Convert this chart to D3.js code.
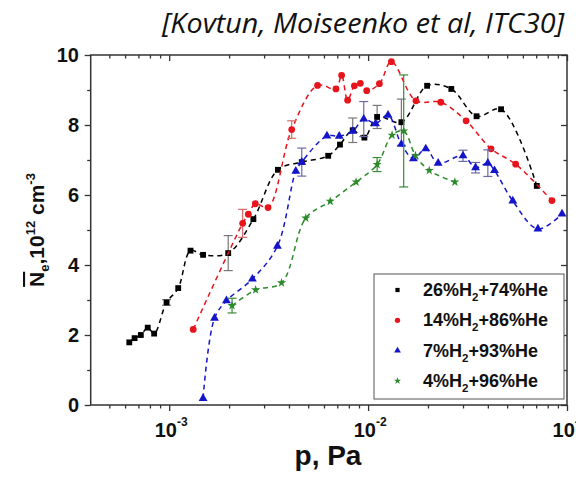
<!DOCTYPE html>
<html><head><meta charset="utf-8">
<script src="https://cdn.jsdelivr.net/npm/d3@7"></script>
<style>body{margin:0;background:#fff;} svg{display:block;}</style>
</head><body><svg id="c" width="576" height="477"></svg>
<script>
// ---- data ----
const titleText = "[Kovtun, Moiseenko et al, ITC30]";
const xLabel = "p, Pa";
const yTicks = [0, 2, 4, 6, 8, 10];
const yMinorTicks = [1, 3, 5, 7, 9];
const xMajorTicks = [1e-3, 1e-2, 1e-1];
const xTickExponents = ["-3", "-2", "-1"];
const xMinorTicks = [5e-4, 6e-4, 7e-4, 8e-4, 9e-4, 2e-3, 3e-3, 4e-3, 5e-3, 6e-3, 7e-3, 8e-3, 9e-3, 2e-2, 3e-2, 4e-2, 5e-2, 6e-2, 7e-2, 8e-2, 9e-2];
const legendLabels = [["26%H", "2", "+74%He"], ["14%H", "2", "+86%He"], ["7%H", "2", "+93%He"], ["4%H", "2", "+96%He"]];

const p26 = [6.3e-4, 6.7e-4, 7.2e-4, 7.8e-4, 8.4e-4, 9.7e-4, 1.11e-3, 1.28e-3, 1.48e-3, 1.98e-3, 2.65e-3, 3.52e-3, 4.64e-3, 6.3e-3, 7.22e-3, 8.37e-3, 9.58e-3, 1.11e-2, 1.47e-2, 1.98e-2, 2.62e-2, 3.51e-2, 4.66e-2, 7.05e-2];
const n26 = [1.79, 1.91, 2.0, 2.21, 2.04, 2.93, 3.34, 4.41, 4.29, 4.34, 5.31, 6.72, 6.94, 7.12, 7.44, 7.85, 7.64, 8.23, 8.08, 9.12, 9.03, 8.25, 8.45, 6.26];
const e26 = [0, 0, 0, 0, 0, 0.08, 0, 0, 0, 0.5, 0, 0, 0, 0, 0, 0.35, 0, 0.33, 0.66, 0, 0, 0, 0, 0];

const p14 = [1.32e-3, 2.34e-3, 2.5e-3, 2.71e-3, 3.14e-3, 4.13e-3, 5.57e-3, 6.89e-3, 7.36e-3, 7.89e-3, 8.53e-3, 9.14e-3, 9.84e-3, 1.14e-2, 1.31e-2, 1.74e-2, 2.32e-2, 3.11e-2, 4.15e-2, 5.52e-2, 8.4e-2];
const n14 = [2.16, 5.19, 5.45, 5.75, 5.64, 7.87, 9.13, 9.03, 9.42, 8.71, 9.12, 9.19, 8.98, 9.18, 9.81, 8.69, 8.65, 8.12, 7.32, 6.88, 5.84];
const e14 = [0, 0.4, 0, 0, 0, 0.25, 0, 0, 0, 0, 0, 0, 0, 0, 0, 0, 0, 0, 0, 0, 0];

const p7 = [1.48e-3, 1.69e-3, 1.94e-3, 2.62e-3, 3.5e-3, 4.33e-3, 4.64e-3, 6.21e-3, 7.16e-3, 8.37e-3, 9.51e-3, 1.09e-2, 1.26e-2, 1.47e-2, 1.69e-2, 1.95e-2, 2.25e-2, 3.0e-2, 3.47e-2, 4.0e-2, 4.32e-2, 5.34e-2, 7.14e-2, 9.44e-2];
const n7 = [0.19, 2.48, 2.98, 3.6, 4.54, 6.68, 6.94, 7.69, 7.68, 7.82, 8.17, 8.04, 8.28, 7.45, 7.04, 7.32, 6.91, 7.12, 6.78, 6.91, 6.70, 5.83, 5.03, 5.46];
const e7 = [0, 0, 0, 0, 0, 0, 0.4, 0, 0, 0, 0.5, 0, 0, 0, 0, 0, 0, 0.16, 0.15, 0.38, 0, 0, 0, 0];

const p4 = [2.07e-3, 2.72e-3, 3.67e-3, 4.86e-3, 6.45e-3, 8.7e-3, 1.11e-2, 1.32e-2, 1.51e-2, 1.73e-2, 2.03e-2, 2.73e-2];
const n4 = [2.84, 3.29, 3.49, 5.34, 5.82, 6.37, 6.87, 7.71, 7.83, 7.13, 6.70, 6.37];
const e4 = [0.21, 0, 0, 0, 0, 0, 0.2, 0, 1.6, 0, 0, 0];

const seriesP = [p26, p14, p7, p4];
const seriesN = [n26, n14, n7, n4];
const seriesE = [e26, e14, e7, e4];

// ---- styles ----
const colors = ["#000000", "#e8141b", "#1414c8", "#2a8a2a"];
const errColors = ["#777777", "#d86a6a", "#6a6aa8", "#3a8a3a"];
const symbols = [d3.symbolSquare, d3.symbolCircle, d3.symbolTriangle, d3.symbolStar];
const symSize = [34, 36, 34, 26];
const legSize = [18, 22, 20, 16];

const svg = d3.select("#c");
const x = d3.scaleLog().domain([4.03e-4, 0.1]).range([90.7, 567]);
const y = d3.scaleLinear().domain([0, 10]).range([405, 55]);
const [x0, x1] = x.range();
const [y0, y1] = y.range();
const axisColor = "#333";

function styleAxis(g) {
  g.select(".domain").remove();
  g.selectAll("line").attr("stroke", axisColor).attr("stroke-width", 1.3);
}
// bottom (outward)
svg.append("g").attr("transform", `translate(0,${y0})`).call(d3.axisBottom(x).tickValues(xMajorTicks).tickSize(6).tickFormat("")).call(styleAxis);
svg.append("g").attr("transform", `translate(0,${y0})`).call(d3.axisBottom(x).tickValues(xMinorTicks).tickSize(3.5).tickFormat("")).call(styleAxis);
// top (inward)
svg.append("g").attr("transform", `translate(0,${y1})`).call(d3.axisBottom(x).tickValues(xMajorTicks).tickSize(6).tickFormat("")).call(styleAxis);
svg.append("g").attr("transform", `translate(0,${y1})`).call(d3.axisBottom(x).tickValues(xMinorTicks).tickSize(3.5).tickFormat("")).call(styleAxis);
// left (outward)
svg.append("g").attr("transform", `translate(${x0},0)`).call(d3.axisLeft(y).tickValues(yTicks).tickSize(6).tickFormat("")).call(styleAxis);
svg.append("g").attr("transform", `translate(${x0},0)`).call(d3.axisLeft(y).tickValues(yMinorTicks).tickSize(3.5).tickFormat("")).call(styleAxis);
// right (inward)
svg.append("g").attr("transform", `translate(${x1},0)`).call(d3.axisLeft(y).tickValues(yTicks).tickSize(6).tickFormat("")).call(styleAxis);
svg.append("g").attr("transform", `translate(${x1},0)`).call(d3.axisLeft(y).tickValues(yMinorTicks).tickSize(3.5).tickFormat("")).call(styleAxis);

svg.append("rect").attr("x", x0).attr("y", y1).attr("width", x1 - x0).attr("height", y0 - y1)
  .attr("fill", "none").attr("stroke", axisColor).attr("stroke-width", 1.5);

const font = "'Liberation Sans', Arial, sans-serif";
// y tick labels
svg.append("g").selectAll("text").data(yTicks).join("text")
  .attr("x", 79).attr("y", d => y(d) + 7).attr("text-anchor", "end")
  .attr("font-family", font).attr("font-weight", "bold").attr("font-size", 20).attr("fill", "#111")
  .text(d => d);
// x tick labels
const xl = svg.append("g").selectAll("text").data(xMajorTicks).join("text")
  .attr("x", d => x(d) + 2).attr("y", 437).attr("text-anchor", "middle")
  .attr("font-family", font).attr("font-weight", "bold").attr("font-size", 20).attr("fill", "#111");
xl.append("tspan").text("10");
xl.append("tspan").attr("font-size", 12).attr("dy", -11).text((d, i) => xTickExponents[i]);

// axis titles
svg.append("text").attr("x", 328).attr("y", 465).attr("text-anchor", "middle")
  .attr("font-family", font).attr("font-weight", "bold").attr("font-size", 28).attr("fill", "#111").text(xLabel);

const yl = svg.append("text").attr("transform", "translate(44,230) rotate(-90)").attr("text-anchor", "middle")
  .attr("font-family", font).attr("font-weight", "bold").attr("font-size", 21).attr("fill", "#111");
yl.append("tspan").style("text-decoration", "overline").text("N");
yl.append("tspan").attr("font-size", 13).attr("dy", 5).text("e");
yl.append("tspan").attr("dy", -5).text(",10");
yl.append("tspan").attr("font-size", 13).attr("dy", -9).text("12");
yl.append("tspan").attr("dy", 9).text(" cm");
yl.append("tspan").attr("font-size", 13).attr("dy", -9).text("-3");

// title
svg.append("text").attr("x", 162).attr("y", 33)
  .attr("font-family", "'Open Sans', sans-serif").attr("font-style", "italic").attr("font-size", 28)
  .attr("textLength", 402).attr("lengthAdjust", "spacingAndGlyphs").attr("fill", "#111").text(titleText);

// series
const line = d3.line().x(d => x(d[0])).y(d => y(d[1])).curve(d3.curveCatmullRom.alpha(0.5));
seriesP.forEach((ps, s) => {
  const pts = ps.map((p, i) => [p, seriesN[s][i], seriesE[s][i]]);
  const g = svg.append("g");
  g.append("path").attr("d", line(pts)).attr("fill", "none").attr("stroke", colors[s])
    .attr("stroke-width", 1.5).attr("stroke-dasharray", "5,4");
  const eb = g.selectAll("g.eb").data(pts.filter(d => d[2] > 0)).join("g").attr("stroke", errColors[s]).attr("stroke-width", 1.2);
  eb.append("line").attr("x1", d => x(d[0])).attr("x2", d => x(d[0])).attr("y1", d => y(d[1] - d[2])).attr("y2", d => y(d[1] + d[2]));
  eb.append("line").attr("x1", d => x(d[0]) - 4.5).attr("x2", d => x(d[0]) + 4.5).attr("y1", d => y(d[1] - d[2])).attr("y2", d => y(d[1] - d[2]));
  eb.append("line").attr("x1", d => x(d[0]) - 4.5).attr("x2", d => x(d[0]) + 4.5).attr("y1", d => y(d[1] + d[2])).attr("y2", d => y(d[1] + d[2]));
  g.selectAll("path.m").data(pts).join("path").attr("class", "m")
    .attr("transform", d => `translate(${x(d[0])},${y(d[1])})`)
    .attr("d", d3.symbol().type(symbols[s]).size(symSize[s])).attr("fill", colors[s]);
});

// legend
const lg = svg.append("g");
lg.append("rect").attr("x", 374).attr("y", 274).attr("width", 190).attr("height", 125)
  .attr("fill", "#fff").attr("stroke", "#555").attr("stroke-width", 1);
legendLabels.forEach((lab, i) => {
  const cy = 290 + i * 30.3;
  lg.append("path").attr("transform", `translate(397.5,${cy})`)
    .attr("d", d3.symbol().type(symbols[i]).size(legSize[i])).attr("fill", colors[i]);
  const t = lg.append("text").attr("x", 423).attr("y", cy + 6)
    .attr("font-family", font).attr("font-weight", "bold").attr("font-size", 18).attr("fill", "#111");
  t.append("tspan").text(lab[0]);
  t.append("tspan").attr("font-size", 11.5).attr("dy", 5).text(lab[1]);
  t.append("tspan").attr("dy", -5).text(lab[2]);
});
</script></body></html>
